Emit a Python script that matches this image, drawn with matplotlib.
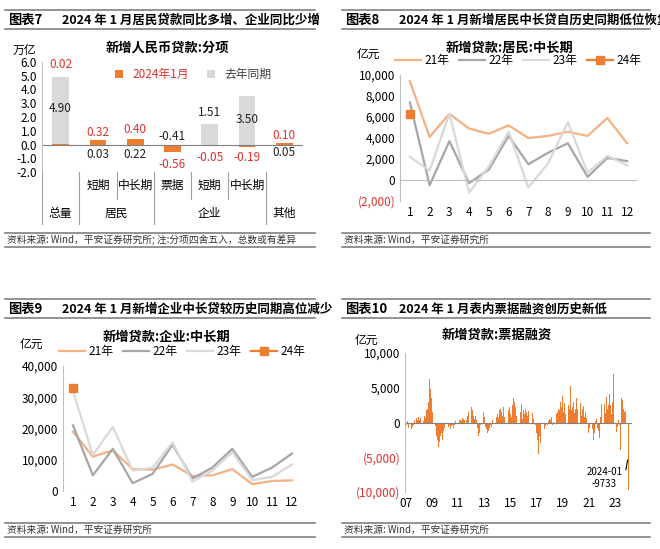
import matplotlib
matplotlib.use("Agg")
import matplotlib.pyplot as plt
import numpy as np
from matplotlib.ticker import FuncFormatter

plt.rcParams['font.family'] = ['Noto Sans CJK SC', 'DejaVu Sans']
plt.rcParams['axes.unicode_minus'] = False

ORANGE = "#ed7d31"
LORANGE = "#f4b183"
DGRAY = "#a6a6a6"
LGRAY = "#d9d9d9"
RED = "#e03030"

# ---- panel 7 data (万亿)
cats_top = ["", "短期", "中长期", "票据", "短期", "中长期", ""]
cur_vals = [0.02, 0.32, 0.40, -0.56, -0.05, -0.19, 0.10]
prev_vals = [4.90, 0.03, 0.22, -0.41, 1.51, 3.50, 0.05]

# ---- panel 8 data (亿元), months 1..12
months = list(range(1, 13))
hh_21 = [9400, 4100, 6300, 4900, 4400, 5200, 4000, 4200, 4600, 4200, 5900, 3500]
hh_22 = [7400, -500, 3700, -300, 1000, 4200, 1500, 2600, 3500, 300, 2100, 1800]
hh_23 = [2200, 900, 6300, -1200, 1300, 4600, -700, 1600, 5500, 700, 2300, 1400]
hh_24 = [6300]

# ---- panel 9 data (亿元)
co_21 = [19000, 11000, 13000, 7000, 6800, 8500, 4800, 5000, 7000, 2200, 3200, 3400]
co_22 = [21000, 5000, 13500, 2500, 5500, 14800, 4000, 7500, 13500, 4500, 7500, 12000]
co_23 = [32000, 11500, 20500, 6500, 7500, 15500, 3000, 6500, 12500, 3500, 4500, 8500]
co_24 = [33000]

# ---- panel 10 data (亿元), monthly 2007-01 .. 2024-01
bill = {
    2007: [500, -300, 200, -800, -1400, -1000, -600, -400, 300, -200, 600, 400],
    2008: [800, 300, 700, 500, 200, 900, 600, 1800, 2000, 3000, 6200, 4800],
    2009: [3500, 1500, 800, -500, -2000, -2500, -3500, -2800, -2000, -1500, -2500, -1200],
    2010: [-800, 300, -200, -600, -300, -900, -500, -300, -800, -400, 200, -200],
    2011: [-300, 300, 400, 200, 700, 500, 300, -200, 400, 900, 1500, 1200],
    2012: [2300, 1800, 1000, 500, 900, 400, -800, -2000, -1500, -400, 300, 1500],
    2013: [800, -600, -1000, -1500, -1200, -800, -400, -600, 300, -500, 500, 800],
    2014: [1200, 600, 1800, 2000, 1500, 1000, 2300, 800, 1000, 500, 1800, 2200],
    2015: [1200, 800, 2500, 3500, 3000, 2200, 1000, 2800, 3300, 1500, 2700, 500],
    2016: [1800, 1200, 2000, 1500, 1000, 1600, 300, 800, 1300, 500, -200, -400],
    2017: [-1500, -2500, -4500, -2000, -3000, -1800, -800, -1000, -500, -200, -300, 200],
    2018: [500, 300, 800, -300, 100, 300, 1200, 1500, 2000, 1800, 3000, 2200],
    2019: [3800, 1500, 2800, 1200, 4000, 2500, 2000, 5200, 1800, 2300, 3000, 1300],
    2020: [2000, 3500, 2000, 1200, 2800, 1000, 2000, 2400, 800, 1500, 700, -200],
    2021: [-1500, -800, -2300, -1000, -2500, -1500, 200, 500, -800, -1200, -2200, 800],
    2022: [2700, 1800, 2700, 1400, 3600, 1900, 2500, 4100, 2500, 1200, 3000, 7000],
    2023: [-4600, -1400, -700, 300, -300, -4000, 3500, 3300, 2000, 1500, 1600, 1400],
    2024: [-9733],
}

W, H = 660, 549
fig = plt.figure(figsize=(W / 100, H / 100), dpi=100)


def box(x0, y0, x1, y1):
    return [x0 / W, 1 - y1 / H, (x1 - x0) / W, (y1 - y0) / H]


def hline(x0, x1, y, lw=1.2):
    fig.add_artist(plt.Line2D([x0 / W, x1 / W], [1 - y / H, 1 - y / H], color="#808080", lw=lw))


def frame(x0, x1, ytop, no, title, src, src_y):
    hline(x0, x1, ytop)
    hline(x0, x1, ytop + 19)
    fig.text((x0 + 3) / W, 1 - (ytop + 10) / H, no, fontsize=9.5, weight="bold", va="center")
    fig.text((x0 + 57) / W, 1 - (ytop + 10) / H, title, fontsize=9, weight="bold", va="center")
    hline(x0, x1, src_y)
    hline(x0, x1, src_y + 14)
    fig.text((x0 + 2) / W, 1 - (src_y + 7) / H, src, fontsize=7, style="italic", va="center", color="#333333")


def neg_fmt(v, _):
    return f"({abs(v):,.0f})" if v < 0 else f"{v:,.0f}"


def color_neg(ax):
    for lab, v in zip(ax.get_yticklabels(), ax.get_yticks()):
        if v < 0:
            lab.set_color(RED)


def style(ax):
    for s in ["top", "right", "bottom"]:
        ax.spines[s].set_visible(False)
    ax.spines["left"].set_color("#bfbfbf")
    ax.tick_params(length=0, labelsize=8.5)


# ---------- panel 7
frame(5, 315, 10, "图表7", "2024 年 1 月居民贷款同比多增、企业同比少增",
      "资料来源: Wind，平安证券研究所; 注:分项四舍五入，总数或有差异", 233)
ax = fig.add_axes(box(42, 62, 303, 172))
x = np.arange(len(cur_vals))
ax.bar(x, prev_vals, width=0.45, color=LGRAY, label="去年同期")
ax.bar(x, cur_vals, width=0.45, color=ORANGE, label="2024年1月")
ax.axhline(0, color="#808080", lw=0.8)
ax.set_xlim(-0.5, 6.5)
ax.set_ylim(-2, 6)
ax.set_yticks(np.arange(-2, 7, 1))
ax.yaxis.set_major_formatter(FuncFormatter(lambda v, _: f"{v:.1f}"))
style(ax)
ax.set_xticks([])
cur_y = [5.8, 0.9, 1.1, -1.45, -0.95, -0.95, 0.65]
prev_y = [2.6, -0.7, -0.7, 0.6, 2.3, 1.8, -0.6]
for i in x:
    ax.text(i, cur_y[i], f"{cur_vals[i]:.2f}", color=RED, ha="center", va="center", fontsize=8.5)
    ax.text(i, prev_y[i], f"{prev_vals[i]:.2f}", color="#222222", ha="center", va="center", fontsize=8.5)
h, l = ax.get_legend_handles_labels()
ax.legend(h[::-1], l[::-1], ncol=2, frameon=False, loc="upper center", bbox_to_anchor=(0.58, 1.04),
          fontsize=8.5, handlelength=0.7, handleheight=0.7, columnspacing=1.5,
          labelcolor=[RED, "#404040"])
fig.text(167 / W, 1 - 48 / H, "新增人民币贷款:分项", fontsize=9.5, weight="bold", va="center", ha="center")
fig.text(13 / W, 1 - 50 / H, "万亿", fontsize=8.5, va="center")
# category table
tb = fig.add_axes(box(42, 172, 303, 225))
tb.set_xlim(-0.5, 6.5)
tb.set_ylim(0, 2)
tb.axis("off")
for b in [-0.5, 0.5, 2.5, 5.5]:
    tb.plot([b, b], [0, 2], color="#a0a0a0", lw=0.8)
for b in [1.5, 3.5, 4.5]:
    tb.plot([b, b], [1, 2], color="#a0a0a0", lw=0.8)
for i, c in enumerate(cats_top):
    tb.text(i, 1.5, c, ha="center", va="center", fontsize=8.5)
for xc, c in [(0, "总量"), (1.5, "居民"), (4, "企业"), (6, "其他")]:
    tb.text(xc, 0.45, c, ha="center", va="center", fontsize=8.5)


def lines_panel(ax, d21, d22, d23, d24):
    ax.plot(months, d21, color=LORANGE, lw=1.6, label="21年")
    ax.plot(months, d22, color=DGRAY, lw=1.6, label="22年")
    ax.plot(months, d23, color=LGRAY, lw=1.6, label="23年")
    ax.plot(months[:len(d24)], d24, color=ORANGE, lw=1.6, marker="s", ms=6, label="24年")
    ax.set_xlim(0.5, 12.5)
    ax.set_xticks(months)
    style(ax)
    ax.legend(ncol=4, frameon=False, loc="lower center", bbox_to_anchor=(0.5, 0.98),
              fontsize=8.5, handlelength=2.2, columnspacing=0.8, handletextpad=0.3)


# ---------- panel 8
frame(342, 650, 10, "图表8", "2024 年 1 月新增居民中长贷自历史同期低位恢复", "资料来源: Wind，平安证券研究所", 233)
ax = fig.add_axes(box(400, 75, 637, 201))
lines_panel(ax, hh_21, hh_22, hh_23, hh_24)
ax.set_ylim(-2000, 10000)
ax.set_yticks(np.arange(-2000, 10001, 2000))
ax.yaxis.set_major_formatter(FuncFormatter(neg_fmt))
ax.axhline(0, color="#bfbfbf", lw=0.8)
color_neg(ax)
fig.text((330 + 540 / 3) / W, 1 - 48 / H, "新增贷款:居民:中长期", fontsize=9.5, weight="bold", va="center", ha="center")
fig.text(357 / W, 1 - 54 / H, "亿元", fontsize=8.5, va="center")

# ---------- panel 9
frame(5, 315, 299, "图表9", "2024 年 1 月新增企业中长贷较历史同期高位减少", "资料来源: Wind，平安证券研究所", 523)
ax = fig.add_axes(box(63, 366, 302, 491))
lines_panel(ax, co_21, co_22, co_23, co_24)
ax.set_ylim(0, 40000)
ax.set_yticks(np.arange(0, 40001, 10000))
ax.yaxis.set_major_formatter(FuncFormatter(neg_fmt))
ax.axhline(0, color="#bfbfbf", lw=0.8)
fig.text(167 / W, 1 - 337 / H, "新增贷款:企业:中长期", fontsize=9.5, weight="bold", va="center", ha="center")
fig.text(20 / W, 1 - 344 / H, "亿元", fontsize=8.5, va="center")

# ---------- panel 10
frame(342, 650, 299, "图表10", "2024 年 1 月表内票据融资创历史新低", "资料来源: Wind，平安证券研究所", 523)
ax = fig.add_axes(box(405, 353, 632, 492))
vals = np.concatenate([bill[y] for y in sorted(bill)])
t = 2007 + np.arange(len(vals)) / 12
ax.bar(t, vals, width=1 / 12 * 0.8, color=ORANGE)
ax.axhline(0, color="#808080", lw=0.8)
ax.set_xlim(2006.95, 2024.3)
ax.set_ylim(-10000, 10000)
ax.set_yticks(np.arange(-10000, 10001, 5000))
ax.yaxis.set_major_formatter(FuncFormatter(neg_fmt))
style(ax)
color_neg(ax)
ax.set_xticks(np.arange(2007, 2024, 2))
ax.set_xticklabels([f"{y % 100:02d}" for y in range(2007, 2024, 2)])
ax.annotate("2024-01\n-9733", xy=(t[-1], -5000), xytext=(2022.2, -8000), fontsize=7,
            ha="center", va="center",
            arrowprops=dict(arrowstyle="-", color="black", lw=0.8, connectionstyle="angle,angleA=0,angleB=80"))
fig.text(497 / W, 1 - 335 / H, "新增贷款:票据融资", fontsize=9.5, weight="bold", va="center", ha="center")
fig.text(355 / W, 1 - 340 / H, "亿元", fontsize=8.5, va="center")

fig.savefig("out.png", dpi=100)
